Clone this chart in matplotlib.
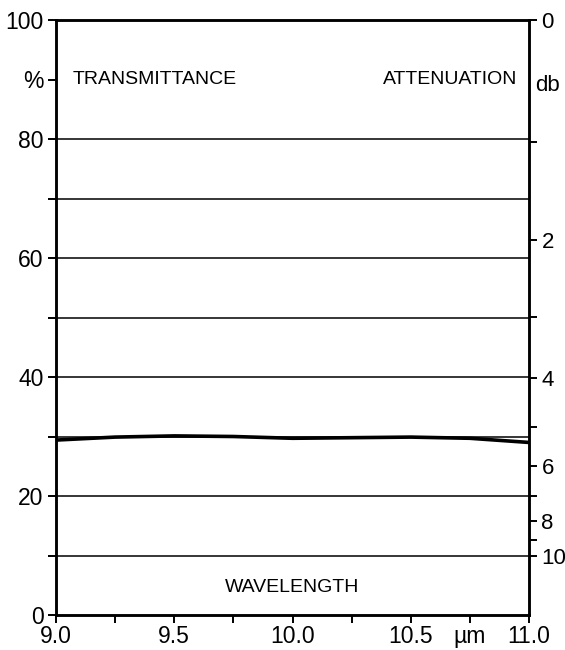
import numpy as np
import matplotlib
matplotlib.use("Agg")
import matplotlib.pyplot as plt

# transmittance curve
wavelength = [9.0, 9.25, 9.5, 9.75, 10.0, 10.25, 10.5, 10.75, 11.0]
transmit = [29.4, 29.9, 30.1, 30.0, 29.7, 29.8, 29.9, 29.7, 29.0]

pct_ticks = [0, 10, 20, 30, 40, 50, 60, 70, 80, 90, 100]
pct_labels = ["0", "", "20", "", "40", "", "60", "", "80", "%", "100"]
grid_pct = [10, 20, 30, 40, 50, 60, 70, 80]
db_ticks = [0, 1, 2, 3, 4, 5, 6, 7, 8, 9, 10]
db_labels = ["0", "", "2", "", "4", "", "6", "", "8", "", "10"]
x_ticks = [9.0, 9.25, 9.5, 9.75, 10.0, 10.25, 10.5, 10.75, 11.0]
x_labels = ["9.0", "", "9.5", "", "10.0", "", "10.5", "\u00b5m", "11.0"]

plt.rcParams['font.family'] = ['Liberation Sans', 'DejaVu Sans']

fig = plt.figure(figsize=(5.65, 6.5), dpi=100)
ax = fig.add_axes([56 / 565, 35 / 650, 473 / 565, 595 / 650])

for g in grid_pct:
    ax.axhline(g, color="k", lw=1.1, zorder=1)
ax.plot(wavelength, transmit, color="k", lw=2.6, zorder=3)

ax.set_xlim(9.0, 11.0)
ax.set_ylim(0, 100)
ax.set_xticks(x_ticks)
ax.set_xticklabels(x_labels)
ax.set_yticks(pct_ticks)
ax.set_yticklabels(pct_labels)
ax.tick_params(direction="out", length=6, width=1.4, labelsize=16.5, pad=3)
ax.tick_params(axis="x", pad=1)

for s in ax.spines.values():
    s.set_linewidth(1.8)

# attenuation axis on the right: dB = -10 log10(T)
ax2 = ax.twinx()
ax2.set_ylim(0, 100)
ax2.set_yticks([100 * 10 ** (-d / 10) for d in db_ticks])
ax2.set_yticklabels(db_labels)
ax2.tick_params(direction="out", length=6, width=1.4, labelsize=16, pad=3)
for s in ax2.spines.values():
    s.set_linewidth(1.8)

ax.text(9.07, 90, "TRANSMITTANCE", fontsize=14, ha="left", va="center")
ax.text(10.95, 90, "ATTENUATION", fontsize=14, ha="right", va="center")
ax.text(10.0, 4.7, "WAVELENGTH", fontsize=14, ha="center", va="center")
ax2.text(11.08, 89.0, "db", fontsize=16, ha="center", va="center",
         clip_on=False)

fig.savefig("out.png", dpi=100)
